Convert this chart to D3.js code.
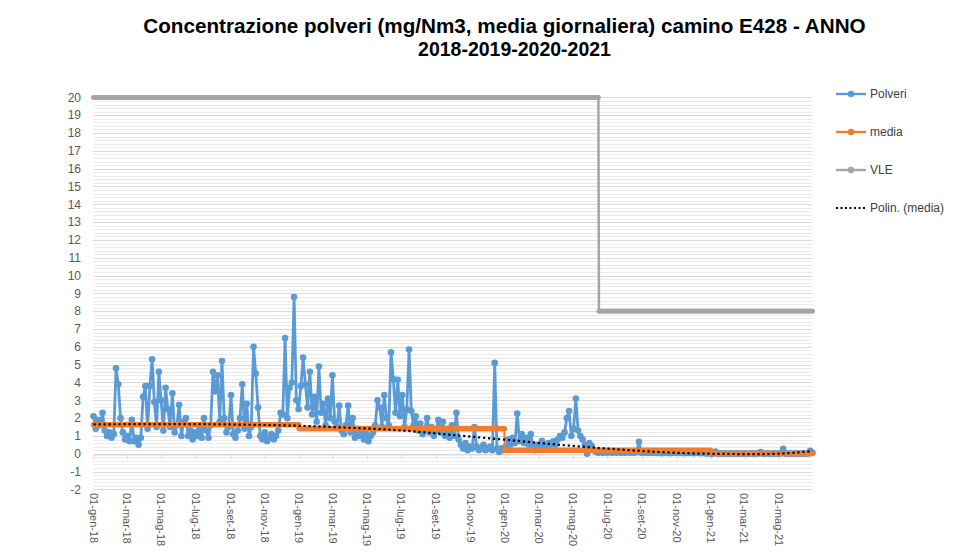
<!DOCTYPE html>
<html>
<head>
<meta charset="utf-8">
<script src="https://cdn.jsdelivr.net/npm/d3@7"></script>
<style>
  body { margin: 0; background: #fff; }
  svg { display: block; font-family: "Liberation Sans", Arial, sans-serif; }
</style>
</head>
<body>
<div id="chart"></div>
<script>
'use strict';

// Polveri: one reading every 4 days from 01-gen-18
var polveriStart = '2018-01-01';
var polveriStepDays = 4;
var polveri = [
  2.1, 1.4, 1.9, 1.6, 2.3, 1.3, 1.0, 1.2, 0.9, 1.1,
  4.8, 3.9, 2.0, 1.2, 0.8, 1.0, 0.7, 1.9, 0.7, 0.9,
  0.5, 0.9, 3.2, 3.8, 1.4, 3.8, 5.3, 2.9, 1.5, 4.6,
  3.0, 1.3, 3.7, 2.5, 1.5, 3.4, 1.2, 1.6, 2.75, 1.0,
  1.8, 2.0, 1.0, 1.3, 0.8, 1.2, 1.0, 1.4, 0.9, 2.0,
  1.3, 0.9, 1.6, 4.6, 3.5, 4.4, 1.8, 5.2, 2.0, 1.2,
  1.5, 3.3, 1.1, 0.9, 1.3, 2.0, 3.9, 1.4, 2.8, 1.0,
  1.5, 6.0, 4.5, 2.6, 1.0, 0.8, 1.2, 0.7, 0.9, 1.1,
  0.8, 1.0, 1.3, 2.3, 2.2, 6.5, 2.0, 3.7, 4.0, 8.8,
  3.0, 2.5, 3.8, 5.4, 3.9, 2.6, 4.6, 2.2, 3.2, 1.8,
  4.9, 2.3, 2.8, 1.6, 3.1, 2.0, 4.4, 1.8, 1.5, 2.7,
  1.3, 1.1, 1.6, 2.7, 1.2, 2.0, 0.9, 1.4, 1.0, 1.3,
  0.8, 1.1, 0.7, 1.0, 1.2, 1.6, 3.0, 2.6, 1.5, 3.3,
  2.0, 1.6, 5.7, 4.2, 2.3, 4.15, 2.1, 3.3, 1.5, 2.5,
  5.85, 2.4, 1.6, 2.1, 1.3, 1.7, 1.1, 1.4, 2.0, 1.2,
  1.5, 1.0, 1.3, 1.9, 1.2, 1.8, 1.0, 1.4, 0.9, 1.6,
  1.0, 2.3, 0.8, 0.5, 0.3, 0.6, 0.2, 0.4, 0.3, 1.5,
  0.4, 0.2, 0.3, 0.5, 0.2, 0.3, 0.4, 0.2, 5.1, 0.3,
  0.1, 0.3, 0.2, 0.4, 0.8, 0.5, 0.9, 0.6, 2.26, 0.7,
  1.1, 0.6, 0.9, 0.5, 1.1, 0.4, 0.2, 0.5, 0.3, 0.73,
  0.5, 0.4, 0.6, 0.5, 0.7, 0.5, 0.8, 1.0, 0.9, 1.2,
  2.0, 2.4, 1.0, 1.4, 3.1, 1.3, 1.0, 0.8, 0.5, 0.0,
  0.6, 0.45, 0.2, 0.1, 0.05, 0.1, 0.05, 0.1, 0.05, 0.1,
  0.05, 0.1, 0.05, 0.1, 0.05, 0.08, 0.05, 0.1, 0.05, 0.08,
  0.05, 0.1, 0.67, 0.05, 0.08, 0.05, 0.05, 0.06, 0.05, 0.05,
  0.04, 0.05, 0.03, 0.05, 0.04, 0.05, 0.03, 0.05, 0.04, 0.05,
  0.04, 0.05, 0.03, 0.05, 0.04, 0.05, 0.03, 0.04, 0.05, 0.03,
  0.04, 0.03, 0.02, 0.03, 0.0, 0.02, 0.13, 0.0, 0.02, 0.0,
  0.02, 0.0, 0.01, 0.02, 0.0, 0.01, 0.02, 0.0, 0.01, 0.02,
  0.0, 0.01, 0.02, 0.0, 0.01, 0.02, 0.1, 0.0, 0.01, 0.02,
  0.0, 0.01, 0.02, 0.0, 0.01, 0.02, 0.28, 0.0, 0.01, 0.02,
  0.0, 0.01, 0.02, 0.0, 0.01, 0.02, 0.0, 0.01, 0.17, 0.05
];

// media annuale
var mediaYears = [2018, 2019, 2020, 2021];
var mediaValues = [1.63, 1.40, 0.20, 0.02];

// VLE (valore limite)
var vleFrom = ['2018-01-01', '2020-06-16'];
var vleTo = ['2020-06-15', '2021-06-30'];
var vleValues = [20, 8];

// Polin. (media)
var trendDates = ['2018-01-01', '2018-04-01', '2018-07-01', '2018-10-01',
  '2019-01-01', '2019-04-01', '2019-07-01', '2019-10-01', '2020-01-01',
  '2020-04-01', '2020-07-01', '2020-10-01', '2021-01-01', '2021-04-01', '2021-06-30'];
var trendValues = [1.65, 1.66, 1.66, 1.63, 1.57, 1.46, 1.31, 1.05, 0.79,
  0.52, 0.29, 0.10, 0.0, -0.02, 0.15];

var axisStart = '2018-01-01', axisEnd = '2021-06-30';
var yMin = -2, yMax = 20;
var monthNames = ['gen', 'feb', 'mar', 'apr', 'mag', 'giu', 'lug', 'ago', 'set', 'ott', 'nov', 'dic'];
var titleLines = ['Concentrazione polveri (mg/Nm3, media giornaliera) camino E428 - ANNO',
  '2018-2019-2020-2021'];
var legendLabels = ['Polveri', 'media', 'VLE', 'Polin. (media)'];

var colors = {polveri: '#5B9BD5', media: '#ED7D31', vle: '#A5A5A5', trend: '#000'};

var width = 959, height = 556;
var parse = d3.timeParse('%Y-%m-%d');

var svg = d3.select('#chart').append('svg')
  .attr('width', width)
  .attr('height', height);

var x = d3.scaleTime()
  .domain([parse(axisStart), parse(axisEnd)])
  .range([93.5, 812.5]);

var y = d3.scaleLinear()
  .domain([yMin, yMax])
  .range([489.4, 97.4]);

// gridlines (minor + major)
var minor = d3.range(yMin * 5, yMax * 5).filter(function(v) { return v % 5 !== 0; })
  .map(function(v) { return v / 5; });
svg.append('g').selectAll('line')
  .data(minor)
  .enter().append('line')
  .attr('x1', x.range()[0]).attr('x2', x.range()[1])
  .attr('y1', function(d) { return Math.round(y(d)) + 0.5; })
  .attr('y2', function(d) { return Math.round(y(d)) + 0.5; })
  .attr('stroke', '#ebebeb');

var yTicks = d3.range(yMin, yMax + 1);
svg.append('g').selectAll('line')
  .data(yTicks)
  .enter().append('line')
  .attr('x1', x.range()[0]).attr('x2', x.range()[1])
  .attr('y1', function(d) { return Math.round(y(d)) + 0.5; })
  .attr('y2', function(d) { return Math.round(y(d)) + 0.5; })
  .attr('stroke', '#d9d9d9');

svg.append('g').selectAll('text')
  .data(yTicks)
  .enter().append('text')
  .attr('x', 81)
  .attr('y', function(d) { return y(d); })
  .attr('dy', '0.35em')
  .attr('text-anchor', 'end')
  .attr('font-size', 12)
  .attr('fill', '#595959')
  .text(function(d) { return d; });

// x axis on the zero line, labels low
var xTicks = d3.timeMonth.every(2).range(parse(axisStart), d3.timeDay.offset(parse(axisEnd), 1));
var xAxis = d3.axisBottom(x).tickValues(xTicks).tickSize(5).tickSizeOuter(0).tickFormat('');
var gx = svg.append('g')
  .attr('transform', 'translate(0,' + (Math.round(y(0)) + 0.5) + ')')
  .call(xAxis);
gx.selectAll('path, line').attr('stroke', '#d9d9d9');

var fmtLabel = function(d) {
  return '01-' + monthNames[d.getMonth()] + '-' + String(d.getFullYear()).slice(2);
};
svg.append('g').selectAll('text')
  .data(xTicks)
  .enter().append('text')
  .attr('transform', function(d) { return 'translate(' + x(d) + ',493) rotate(90)'; })
  .attr('dy', '0.35em')
  .attr('font-size', 11)
  .attr('fill', '#595959')
  .text(fmtLabel);

// Polveri
var polveriData = polveri.map(function(v, i) {
  return {date: d3.timeDay.offset(parse(polveriStart), i * polveriStepDays), value: v};
});
var line = d3.line()
  .x(function(d) { return x(d.date); })
  .y(function(d) { return y(d.value); });

svg.append('path')
  .datum(polveriData)
  .attr('fill', 'none')
  .attr('stroke', colors.polveri)
  .attr('stroke-width', 2.8)
  .attr('stroke-linejoin', 'round')
  .attr('d', line);

svg.append('g').selectAll('circle')
  .data(polveriData)
  .enter().append('circle')
  .attr('cx', function(d) { return x(d.date); })
  .attr('cy', function(d) { return y(d.value); })
  .attr('r', 3.3)
  .attr('fill', colors.polveri);

// media: thin connecting line + thick yearly runs
var mediaRuns = mediaYears.map(function(yr, i) {
  var from = new Date(yr, 0, 1);
  var to = d3.min([new Date(yr, 11, 31), parse(axisEnd)]);
  return [{date: from, value: mediaValues[i]}, {date: to, value: mediaValues[i]}];
});
svg.append('path')
  .datum(d3.merge(mediaRuns))
  .attr('fill', 'none')
  .attr('stroke', colors.media)
  .attr('stroke-width', 2)
  .attr('d', line);
svg.append('g').selectAll('path')
  .data(mediaRuns)
  .enter().append('path')
  .attr('fill', 'none')
  .attr('stroke', colors.media)
  .attr('stroke-width', 5.5)
  .attr('stroke-linecap', 'round')
  .attr('d', line);

// VLE
var vleRuns = vleValues.map(function(v, i) {
  return [{date: parse(vleFrom[i]), value: v}, {date: parse(vleTo[i]), value: v}];
});
svg.append('path')
  .datum(d3.merge(vleRuns))
  .attr('fill', 'none')
  .attr('stroke', colors.vle)
  .attr('stroke-width', 2.5)
  .attr('d', line);
svg.append('g').selectAll('path')
  .data(vleRuns)
  .enter().append('path')
  .attr('fill', 'none')
  .attr('stroke', colors.vle)
  .attr('stroke-width', 5)
  .attr('stroke-linecap', 'round')
  .attr('d', line);

// trend
var trendData = trendDates.map(function(d, i) { return {date: parse(d), value: trendValues[i]}; });
svg.append('path')
  .datum(trendData)
  .attr('fill', 'none')
  .attr('stroke', colors.trend)
  .attr('stroke-width', 2.2)
  .attr('stroke-dasharray', '2.2,2.8')
  .attr('d', line.curve(d3.curveMonotoneX));
line.curve(d3.curveLinear);

// legend
var legendKeys = ['polveri', 'media', 'vle', 'trend'];
var legendY = [94, 132, 170, 208];
var legend = svg.append('g').selectAll('g')
  .data(legendLabels)
  .enter().append('g')
  .attr('transform', function(d, i) { return 'translate(0,' + legendY[i] + ')'; });

legend.append('line')
  .attr('x1', 836).attr('x2', 866)
  .attr('stroke', function(d, i) { return colors[legendKeys[i]]; })
  .attr('stroke-width', function(d, i) { return i === 3 ? 2 : 2.4; })
  .attr('stroke-dasharray', function(d, i) { return i === 3 ? '2,2.5' : null; });

legend.filter(function(d, i) { return i < 3; })
  .append('circle')
  .attr('cx', 851)
  .attr('r', 3.2)
  .attr('fill', function(d, i) { return colors[legendKeys[i]]; });

legend.append('text')
  .attr('x', 870)
  .attr('dy', '0.35em')
  .attr('font-size', 12)
  .attr('fill', '#404040')
  .text(function(d) { return d; });

// title
var titleX = [504.5, 514.5], titleY = [33, 56], titleW = [723, 193];
titleLines.forEach(function(t, i) {
  var el = svg.append('text')
    .attr('x', titleX[i])
    .attr('y', titleY[i])
    .attr('text-anchor', 'middle')
    .attr('font-weight', 'bold')
    .attr('font-size', 18)
    .attr('fill', '#000')
    .text(t);
  var w = el.node().getComputedTextLength();
  el.attr('font-size', 18 * titleW[i] / w);
});
</script>
</body>
</html>
